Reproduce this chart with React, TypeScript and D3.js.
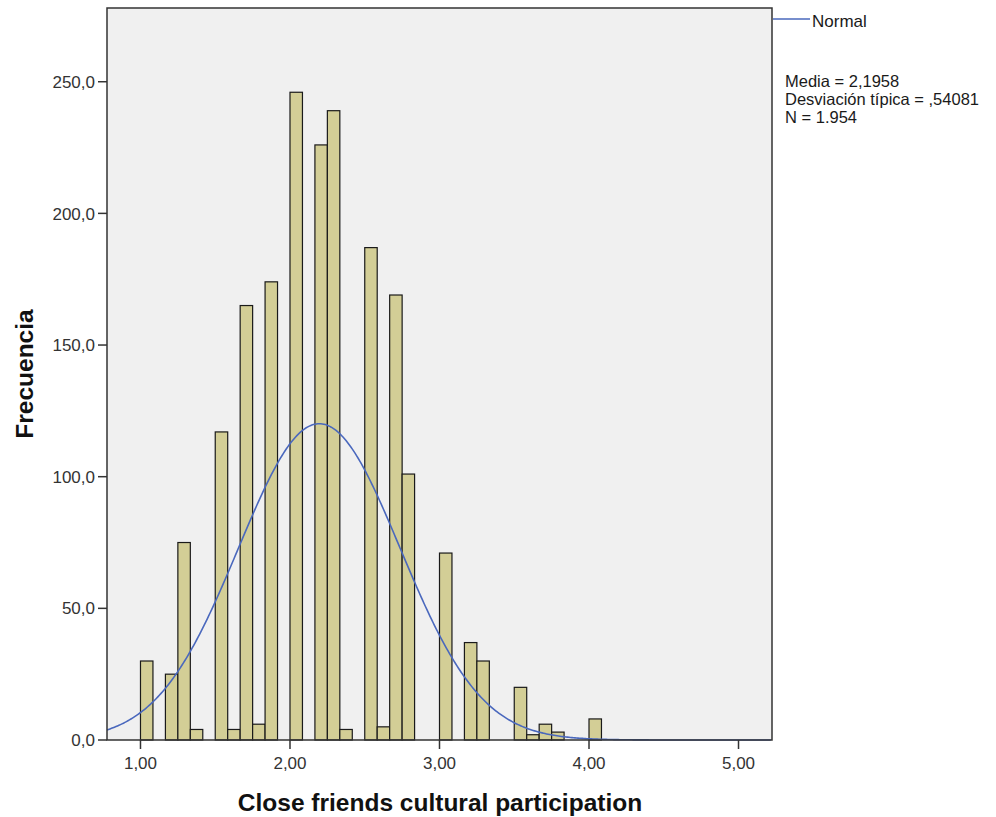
import React, { useRef, useEffect } from 'react'
import * as d3 from 'd3'

// lower edge of each histogram bin (bin width 1/12)
const BIN_STARTS = [
  1.0, 1.1667, 1.25, 1.3333, 1.5, 1.5833, 1.6667, 1.75, 1.8333, 2.0,
  2.1667, 2.25, 2.3333, 2.5, 2.5833, 2.6667, 2.75, 3.0, 3.1667, 3.25,
  3.5, 3.5833, 3.6667, 3.75, 4.0,
]
const COUNTS = [
  30, 25, 75, 4, 117, 4, 165, 6, 174, 246,
  226, 239, 4, 187, 5, 169, 101, 71, 37, 30,
  20, 2, 6, 3, 8,
]
const BIN_WIDTH = 1 / 12

const MEAN = 2.1958
const SD = 0.54081
const N = 1954

const X_TICKS = [1, 2, 3, 4, 5]
const Y_TICKS = [0, 50, 100, 150, 200, 250]
const STATS = ['Media = 2,1958', 'Desviación típica = ,54081', 'N = 1.954']

const fmtX = (d: number) => d.toFixed(2).replace('.', ',')
const fmtY = (d: number) => d.toFixed(1).replace('.', ',')

export default function App() {
  const svgRef = useRef<SVGSVGElement>(null)

  useEffect(() => {
    if (!svgRef.current) return
    const svg = d3.select(svgRef.current)
    svg.selectAll('*').remove()

    const W = 996
    const H = 817
    const m = { left: 107, right: 772, top: 8, bottom: 740 }
    const font = '"Liberation Sans", Arial, sans-serif'

    svg.attr('width', W).attr('height', H)

    const x = d3.scaleLinear().domain([0.776, 5.224]).range([m.left, m.right])
    const y = d3.scaleLinear().domain([0, 278]).range([m.bottom, m.top])

    svg.append('rect')
      .attr('x', m.left).attr('y', m.top)
      .attr('width', m.right - m.left).attr('height', m.bottom - m.top)
      .attr('fill', '#f0f0f0')

    // bars
    const g = svg.append('g')
    BIN_STARTS.forEach((s, i) => {
      const x0 = x(s)
      const x1 = x(s + BIN_WIDTH)
      g.append('rect')
        .attr('x', x0)
        .attr('y', y(COUNTS[i]))
        .attr('width', x1 - x0)
        .attr('height', y(0) - y(COUNTS[i]))
        .attr('fill', '#d3ce96')
        .attr('stroke', '#1a1a1a')
        .attr('stroke-width', 1.2)
    })

    // normal curve from the stated mean / sd / N
    const curvePts = d3.range(0.776, 5.2241, 0.01).map((v) => {
      const z = (v - MEAN) / SD
      const f = (N * BIN_WIDTH) / (SD * Math.sqrt(2 * Math.PI)) * Math.exp(-0.5 * z * z)
      return [v, f] as [number, number]
    })
    const line = d3.line<[number, number]>()
      .x((d) => x(d[0]))
      .y((d) => y(d[1]))
    svg.append('path')
      .datum(curvePts)
      .attr('d', line)
      .attr('fill', 'none')
      .attr('stroke', '#4a68bd')
      .attr('stroke-width', 1.6)

    // frame
    svg.append('rect')
      .attr('x', m.left).attr('y', m.top)
      .attr('width', m.right - m.left).attr('height', m.bottom - m.top)
      .attr('fill', 'none')
      .attr('stroke', '#333')
      .attr('stroke-width', 1.5)

    // y axis
    Y_TICKS.forEach((t) => {
      svg.append('line')
        .attr('x1', m.left - 9).attr('x2', m.left)
        .attr('y1', y(t)).attr('y2', y(t))
        .attr('stroke', '#333').attr('stroke-width', 1.5)
      svg.append('text')
        .attr('x', m.left - 12).attr('y', y(t))
        .attr('dy', '0.36em')
        .attr('text-anchor', 'end')
        .attr('font-family', font).attr('font-size', 17)
        .attr('fill', '#333')
        .text(fmtY(t))
    })

    // x axis
    X_TICKS.forEach((t) => {
      svg.append('line')
        .attr('x1', x(t)).attr('x2', x(t))
        .attr('y1', m.bottom).attr('y2', m.bottom + 9)
        .attr('stroke', '#333').attr('stroke-width', 1.5)
      svg.append('text')
        .attr('x', x(t)).attr('y', m.bottom + 29)
        .attr('text-anchor', 'middle')
        .attr('font-family', font).attr('font-size', 17)
        .attr('fill', '#333')
        .text(fmtX(t))
    })

    svg.append('text')
      .attr('x', 440)
      .attr('y', 811)
      .attr('text-anchor', 'middle')
      .attr('font-family', font).attr('font-size', 24.5).attr('font-weight', 'bold')
      .attr('fill', '#111')
      .text('Close friends cultural participation')

    svg.append('text')
      .attr('transform', `translate(33,${(m.top + m.bottom) / 2}) rotate(-90)`)
      .attr('text-anchor', 'middle')
      .attr('font-family', font).attr('font-size', 24.5).attr('font-weight', 'bold')
      .attr('fill', '#111')
      .text('Frecuencia')

    // legend
    svg.append('line')
      .attr('x1', m.right + 1).attr('x2', m.right + 38)
      .attr('y1', 19).attr('y2', 19)
      .attr('stroke', '#4a68bd').attr('stroke-width', 1.6)
    svg.append('text')
      .attr('x', m.right + 40).attr('y', 27)
      .attr('font-family', font).attr('font-size', 17)
      .attr('fill', '#1a1a1a')
      .text('Normal')

    STATS.forEach((s, i) => {
      svg.append('text')
        .attr('x', 785).attr('y', 87 + i * 18)
        .attr('font-family', font).attr('font-size', 16.5)
        .attr('fill', '#1a1a1a')
        .text(s)
    })
  }, [])

  return (
    <svg ref={svgRef} style={{ position: 'absolute', left: 0, top: 0, background: '#fff' }} />
  )
}
